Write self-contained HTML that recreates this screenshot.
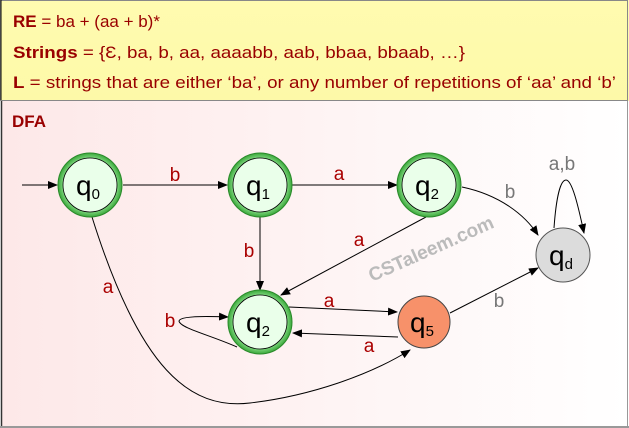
<!DOCTYPE html>
<html><head><meta charset="utf-8"><style>html,body{margin:0;padding:0}svg{display:block}</style></head><body>
<svg width="629" height="428" viewBox="0 0 629 428" xmlns="http://www.w3.org/2000/svg" font-family="Liberation Sans, Arial, sans-serif">
<defs>
<linearGradient id="yel" x1="0" y1="0" x2="0" y2="1"><stop offset="0" stop-color="#fffbb0"/><stop offset="1" stop-color="#fdf9a8"/></linearGradient>
<linearGradient id="pink" x1="0" y1="0" x2="1" y2="0"><stop offset="0" stop-color="#fde8e8"/><stop offset="0.5" stop-color="#fef3f3"/><stop offset="1" stop-color="#ffffff"/></linearGradient>
<radialGradient id="gr" cx="0.5" cy="0.5" r="0.5"><stop offset="0.8" stop-color="#8fe08f"/><stop offset="1" stop-color="#3aa83a"/></radialGradient>
<marker id="ar" markerWidth="10" markerHeight="8" refX="9" refY="4" orient="auto" markerUnits="userSpaceOnUse"><path d="M0,0 L10,4 L0,8 z" fill="#000"/></marker>
</defs>
<rect x="0" y="0" width="629" height="101" fill="url(#yel)"/>
<rect x="0.5" y="0.5" width="627" height="100" fill="none" stroke="#888" stroke-width="1"/>
<line x1="1" y1="0" x2="1" y2="100" stroke="#000"/>
<rect x="1" y="101" width="626" height="325" fill="url(#pink)"/>
<line x1="1.5" y1="101" x2="1.5" y2="427" stroke="#333" stroke-width="1.5"/>
<line x1="627.5" y1="101" x2="627.5" y2="427" stroke="#999"/>
<line x1="0" y1="427" x2="629" y2="427" stroke="#999" stroke-width="2"/>
<g fill="#990000" font-size="17">
<text x="13" y="27"><tspan font-weight="bold">RE</tspan> = ba + (aa + b)*</text>
<text x="13" y="58" textLength="452" lengthAdjust="spacingAndGlyphs"><tspan font-weight="bold">Strings</tspan> = {Ɛ, ba, b, aa, aaaabb, aab, bbaa, bbaab, …}</text>
<text x="13" y="88" textLength="603" lengthAdjust="spacingAndGlyphs"><tspan font-weight="bold">L</tspan> = strings that are either ‘ba’, or any number of repetitions of ‘aa’ and ‘b’</text>
<text x="12" y="127" font-weight="bold">DFA</text>
</g>
<text x="0" y="0" transform="translate(372,282) rotate(-24)" font-size="19" font-weight="bold" fill="#bbb">CSTaleem.com</text>
<g fill="none" stroke="#000" stroke-width="1" marker-end="url(#ar)">
<line x1="22" y1="185" x2="57" y2="185"/>
<line x1="123" y1="185" x2="227" y2="185"/>
<line x1="292" y1="185" x2="397" y2="185"/>
<line x1="260" y1="217" x2="260" y2="290"/>
<path d="M462,187 C500,195 525,215 538,235"/>
<path d="M554,228 C556,200 560,180 566,180 C572,180 578,205 584,233"/>
<line x1="426" y1="217" x2="281" y2="295"/>
<path d="M92,217 C140,370 190,410 250,403 C310,396 370,375 410,350"/>
<path d="M237,347 C210,335 180,328 179,321 C180,316 205,316 228,317"/>
<line x1="289" y1="307" x2="397" y2="312"/>
<line x1="398" y1="337" x2="293" y2="333"/>
<line x1="450" y1="313" x2="538" y2="268"/>
</g>
<g>
<circle cx="90" cy="185" r="32" fill="url(#gr)" stroke="#2a8a2a"/>
<circle cx="90" cy="185" r="27" fill="#eaffea" stroke="#000" stroke-width="0.8"/>
<circle cx="260" cy="185" r="32" fill="url(#gr)" stroke="#2a8a2a"/>
<circle cx="260" cy="185" r="27" fill="#eaffea" stroke="#000" stroke-width="0.8"/>
<circle cx="429" cy="185" r="32" fill="url(#gr)" stroke="#2a8a2a"/>
<circle cx="429" cy="185" r="27" fill="#eaffea" stroke="#000" stroke-width="0.8"/>
<circle cx="260" cy="322" r="32" fill="url(#gr)" stroke="#2a8a2a"/>
<circle cx="260" cy="322" r="27" fill="#eaffea" stroke="#000" stroke-width="0.8"/>
<circle cx="424" cy="322" r="26" fill="#f7916a" stroke="#444"/>
<circle cx="563" cy="255" r="27" fill="#dcdcdc" stroke="#555"/>
</g>
<g font-size="28" fill="#000">
<text x="76" y="195">q<tspan font-size="15" dy="4">0</tspan></text>
<text x="246" y="195">q<tspan font-size="15" dy="4">1</tspan></text>
<text x="415" y="195">q<tspan font-size="15" dy="4">2</tspan></text>
<text x="246" y="332">q<tspan font-size="15" dy="4">2</tspan></text>
<text x="410" y="332">q<tspan font-size="15" dy="4">5</tspan></text>
<text x="549" y="265">q<tspan font-size="15" dy="4">d</tspan></text>
</g>
<g font-size="19" fill="#aa0000" text-anchor="middle">
<text x="175" y="181">b</text>
<text x="339" y="180">a</text>
<text x="249" y="257">b</text>
<text x="359" y="246">a</text>
<text x="108" y="293">a</text>
<text x="170" y="327">b</text>
<text x="329" y="307">a</text>
<text x="369" y="352">a</text>
</g>
<g font-size="19" fill="#777" text-anchor="middle">
<text x="510" y="198">b</text>
<text x="562" y="170">a,b</text>
<text x="499" y="307">b</text>
</g>
</svg>
</body></html>
